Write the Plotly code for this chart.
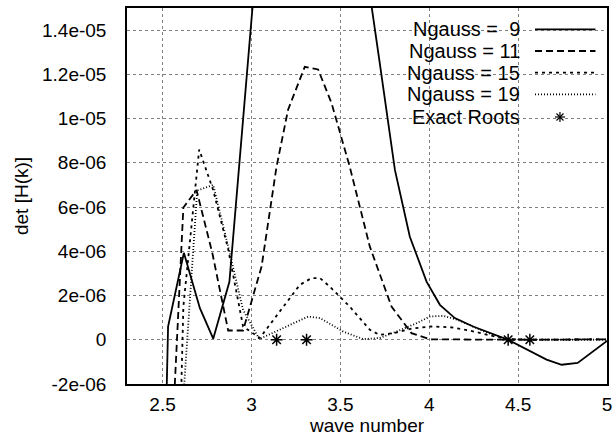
import plotly.graph_objects as go

# ---------------- data ----------------
k_n9 = [2.447, 2.531, 2.620, 2.710, 2.785, 2.876, 3.034, 3.643, 3.722, 3.807, 3.891,
        3.985, 4.060, 4.144, 4.247, 4.444, 4.660, 4.745, 4.835, 5.0]
d_n9 = [-3.0e-5, 0.6e-6, 3.93e-6, 1.43e-6, 0.05e-6, 2.62e-6, 1.77e-5, 1.69e-5, 1.25e-5, 7.68e-6, 4.66e-6,
        2.63e-6, 1.58e-6, 0.98e-6, 0.6e-6, 0.0, -0.9e-6, -1.13e-6, -1.05e-6, -0.05e-6]

k_n11 = [2.533, 2.617, 2.691, 2.780, 2.869, 2.953, 3.057, 3.141, 3.206, 3.300, 3.375,
         3.451, 3.553, 3.666, 3.788, 3.900, 4.003, 4.500, 5.0]
d_n11 = [-8.0e-6, 5.98e-6, 6.77e-6, 3.92e-6, 0.42e-6, 0.42e-6, 3.31e-6, 7.82e-6, 1.04e-5, 1.234e-5, 1.222e-5,
         1.069e-5, 7.82e-6, 4.21e-6, 1.5e-6, 0.3e-6, 0.02e-6, 0.0, 0.02e-6]

k_n15 = [2.533, 2.617, 2.706, 2.785, 2.869, 2.953, 3.047, 3.178, 3.272, 3.338, 3.385,
         3.441, 3.553, 3.666, 3.720, 3.800, 3.900, 4.003, 4.060, 4.116, 4.228, 4.322,
         4.440, 4.600, 5.0]
d_n15 = [-2.5e-5, 1.5e-6, 8.6e-6, 6.76e-6, 4.1e-6, 0.6e-6, 0.08e-6, 1.5e-6, 2.48e-6, 2.79e-6, 2.79e-6,
         2.4e-6, 1.5e-6, 0.45e-6, 0.22e-6, 0.3e-6, 0.5e-6, 0.6e-6, 0.6e-6, 0.57e-6, 0.42e-6, 0.23e-6,
         0.03e-6, 0.0, 0.02e-6]

k_n19 = [2.533, 2.617, 2.695, 2.785, 2.869, 2.953, 3.044, 3.178, 3.319, 3.385, 3.516,
         3.628, 3.722, 3.816, 3.929, 4.003, 4.080, 4.160, 4.250, 4.330, 4.440, 4.600, 5.0]
d_n19 = [-4.0e-5, -2.6e-6, 6.75e-6, 7.0e-6, 4.22e-6, 1.35e-6, 0.03e-6, 0.53e-6, 1.05e-6, 0.98e-6, 0.37e-6,
         0.03e-6, 0.08e-6, 0.37e-6, 0.75e-6, 1.05e-6, 1.08e-6, 0.9e-6, 0.6e-6, 0.3e-6, 0.03e-6, 0.0, 0.0]

k_roots = [3.1416, 3.310, 4.444, 4.566]
d_roots = [0.0, 0.0, 0.0, 0.0]

x_ticks = [2.5, 3, 3.5, 4, 4.5, 5]
x_tick_text = ["2.5", "3", "3.5", "4", "4.5", "5"]
y_ticks = [-2e-6, 0, 2e-6, 4e-6, 6e-6, 8e-6, 1e-5, 1.2e-5, 1.4e-5]
y_tick_text = ["-2e-06", "0", "2e-06", "4e-06", "6e-06", "8e-06", "1e-05", "1.2e-05", "1.4e-05"]

legend_labels = ["Ngauss =\u00a0\u00a09", "Ngauss = 11", "Ngauss = 15", "Ngauss = 19", "Exact Roots"]
dash_styles = ["solid", "7px,4px", "3px,4px", "1px,2px"]

FONT = "Liberation Sans, Arial, Helvetica, sans-serif"
TICK_SIZE = 19
KEY_SIZE = 20

fig = go.Figure()
series = [(k_n9, d_n9), (k_n11, d_n11), (k_n15, d_n15), (k_n19, d_n19)]
for (kx, dy), dash, name in zip(series, dash_styles, legend_labels):
    fig.add_trace(go.Scatter(x=kx, y=dy, mode="lines", name=name,
                             line=dict(color="black", width=1.8, dash=dash),
                             showlegend=False, cliponaxis=True))
fig.add_trace(go.Scatter(x=k_roots, y=d_roots, mode="markers", name=legend_labels[4],
                         marker=dict(symbol="asterisk-open", size=10, color="black",
                                     line=dict(color="black", width=1.5)),
                         showlegend=False))

# ---- custom gnuplot-style key (text left, sample right) ----
row_y = [0.9434, 0.8856, 0.8279, 0.7702, 0.7101]
shapes = [dict(type="rect", xref="paper", yref="paper", x0=0.56875, x1=0.9854, y0=0.6676, y1=0.976,
               fillcolor="white", line=dict(width=0), layer="between")]
annotations = []
for i, lab in enumerate(legend_labels):
    annotations.append(dict(text=lab, xref="paper", yref="paper", x=0.8229, y=row_y[i],
                            xanchor="right", yanchor="middle", showarrow=False,
                            font=dict(family=FONT, size=KEY_SIZE, color="black")))
for i, dash in enumerate(dash_styles):
    shapes.append(dict(type="line", xref="paper", yref="paper", x0=0.85, x1=0.976,
                       y0=row_y[i], y1=row_y[i], line=dict(color="black", width=1.8, dash=dash),
                       layer="above"))
# asterisk key symbol (pixel-sized)
sx, sy, r = 0.902, row_y[4], 5
for (a0, b0, a1, b1) in [(-r, 0, r, 0), (0, -r, 0, r), (-r * 0.7, -r * 0.7, r * 0.7, r * 0.7),
                         (-r * 0.7, r * 0.7, r * 0.7, -r * 0.7)]:
    shapes.append(dict(type="line", xref="paper", yref="paper", xsizemode="pixel", ysizemode="pixel",
                       xanchor=sx, yanchor=sy, x0=a0, x1=a1, y0=b0, y1=b1,
                       line=dict(color="black", width=1.2), layer="above"))

axis_common = dict(showline=True, mirror=True, linecolor="black", linewidth=1.5,
                   showgrid=True, gridcolor="#808080", griddash="dot", gridwidth=1,
                   zeroline=False, ticks="", automargin=False,
                   tickfont=dict(family=FONT, size=TICK_SIZE, color="black"))

fig.update_layout(
    width=613, height=444,
    margin=dict(l=127, r=6, t=8, b=60),
    paper_bgcolor="white", plot_bgcolor="white",
    font=dict(family=FONT, size=TICK_SIZE, color="black"),
    xaxis=dict(range=[2.3, 5.0], tickvals=x_ticks, ticktext=x_tick_text,
               title=dict(text="wave number", standoff=2, font=dict(family=FONT, size=TICK_SIZE)),
               ticklabelstandoff=2, **axis_common),
    yaxis=dict(range=[-2e-6, 1.5e-5], tickvals=y_ticks, ticktext=y_tick_text,
               title=dict(text="det [H(k)]", standoff=8, font=dict(family=FONT, size=TICK_SIZE)),
               ticklabelstandoff=15, **axis_common),
    shapes=shapes, annotations=annotations, showlegend=False,
)

fig.write_html("out.html", config={"displayModeBar": False},
               post_script="document.body.style.margin='0';document.body.style.overflow='hidden';")
